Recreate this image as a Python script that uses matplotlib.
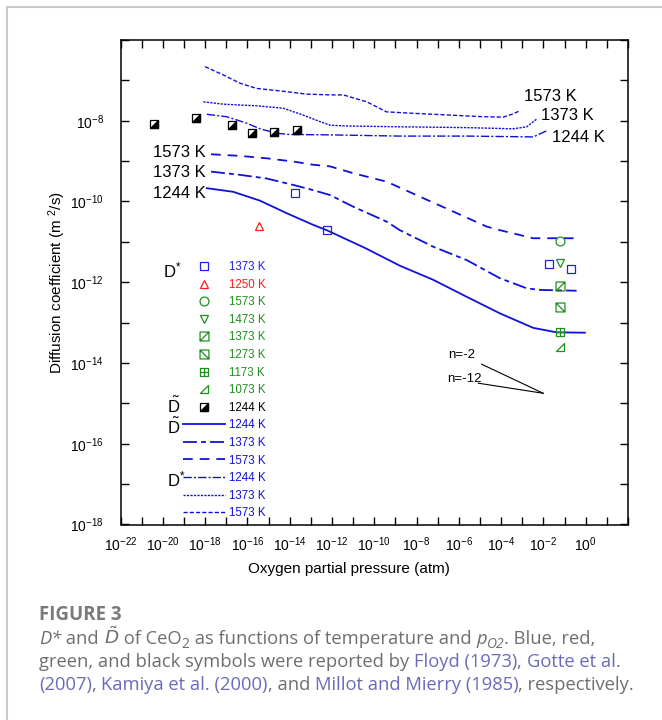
import numpy as np
import matplotlib
matplotlib.use("Agg")
import matplotlib.pyplot as plt
from matplotlib.lines import Line2D
from matplotlib.path import Path
from matplotlib.legend_handler import HandlerTuple

plt.rcParams['font.family'] = ['Liberation Sans', 'DejaVu Sans']
plt.rcParams['mathtext.fontset'] = 'custom'
plt.rcParams['mathtext.rm'] = 'Liberation Sans'
plt.rcParams['mathtext.it'] = 'Liberation Sans:italic'
plt.rcParams['mathtext.bf'] = 'Liberation Sans:bold'
plt.rcParams['mathtext.sf'] = 'Liberation Sans'
plt.rcParams['lines.scale_dashes'] = False

# ---------------- data: log10(pO2 / atm), log10(D / m^2 s^-1) ----------------
# chemical diffusion coefficient D~ (model curves)
dchem_1244_lx = [-17.92, -16.67, -15.40, -14.14, -12.88, -12.25, -10.44, -8.79, -7.21, -5.63, -4.06, -2.48, -1.38, -0.04]
dchem_1244_ly = [-9.67, -9.76, -9.98, -10.29, -10.58, -10.71, -11.15, -11.59, -11.94, -12.36, -12.77, -13.13, -13.24, -13.25]
dchem_1373_lx = [-17.72, -16.35, -15.09, -13.83, -12.88, -12.09, -10.99, -9.41, -8.79, -7.21, -5.63, -4.06, -2.79, -2.16, -0.43]
dchem_1373_ly = [-9.26, -9.34, -9.43, -9.59, -9.72, -9.84, -10.13, -10.50, -10.71, -11.12, -11.45, -11.90, -12.15, -12.19, -12.21]
dchem_1573_lx = [-17.72, -16.35, -15.09, -13.83, -12.88, -12.09, -10.99, -9.41, -7.84, -6.26, -4.69, -4.06, -2.48, -0.43]
dchem_1573_ly = [-8.83, -8.87, -8.93, -9.01, -9.09, -9.13, -9.30, -9.51, -9.88, -10.25, -10.62, -10.71, -10.91, -10.91]

# tracer diffusion coefficient D* (model curves)
dstar_1244_lx = [-17.92, -16.98, -16.03, -15.40, -14.61, -13.99, -12.09, -8.78, -5.63, -2.48, -1.85]
dstar_1244_ly = [-7.84, -7.90, -8.06, -8.20, -8.31, -8.34, -8.35, -8.38, -8.38, -8.40, -8.25]
dstar_1373_lx = [-18.08, -17.14, -15.56, -14.30, -13.36, -12.72, -12.09, -11.30, -8.78, -5.63, -3.43, -2.79, -2.32]
dstar_1373_ly = [-7.53, -7.59, -7.63, -7.69, -7.86, -7.99, -8.11, -8.13, -8.15, -8.17, -8.20, -8.15, -7.96]
dstar_1573_lx = [-18.00, -17.12, -16.35, -15.56, -14.46, -13.20, -12.10, -11.47, -10.36, -9.42, -8.00, -6.42, -4.85, -3.90, -3.43, -3.11]
dstar_1573_ly = [-6.66, -6.87, -7.07, -7.20, -7.26, -7.34, -7.36, -7.36, -7.53, -7.78, -7.82, -7.86, -7.90, -7.91, -7.83, -7.75]

# measured points
floyd_1373_lx = [-13.74, -12.25, -1.74, -0.71]
floyd_1373_ly = [-9.78, -10.71, -11.55, -11.68]
gotte_1250_lx = [-15.44]
gotte_1250_ly = [-10.61]
kamiya_lx = -1.22
kamiya_temps = ['1573 K', '1473 K', '1373 K', '1273 K', '1173 K', '1073 K']
kamiya_ly = [-10.98, -11.53, -12.09, -12.62, -13.24, -13.60]
millot_1244_lx = [-20.40, -18.43, -16.74, -15.80, -14.73, -13.64]
millot_1244_ly = [-8.09, -7.94, -8.11, -8.31, -8.29, -8.23]

# slope guides (n = -2, n = -12)
guide_n2_lx = [-4.92, -2.01]
guide_n2_ly = [-14.03, -14.75]
guide_n12_lx = [-5.08, -2.01]
guide_n12_ly = [-14.50, -14.75]

curve_temps = ['1244 K', '1373 K', '1573 K']

def P(v):
    return 10.0 ** np.asarray(v, dtype=float)

# ---------------- styles ----------------
BLUE = '#1010dc'
MBLUE = '#2020e0'
RED = '#ff1a1a'
GREEN = '#1f8f1f'
mk = 6.4
mew = 0.9

M = Path.MOVETO; L = Path.LINETO; C = Path.CLOSEPOLY
sq_slash = Path([(-1, -1), (1, -1), (1, 1), (-1, 1), (-1, -1), (-1, -1), (1, 1)], [M, L, L, L, C, M, L])
sq_back = Path([(-1, -1), (1, -1), (1, 1), (-1, 1), (-1, -1), (-1, 1), (1, -1)], [M, L, L, L, C, M, L])
sq_plus = Path([(-1, -1), (1, -1), (1, 1), (-1, 1), (-1, -1), (0, -1), (0, 1), (-1, 0), (1, 0)],
               [M, L, L, L, C, M, L, M, L])
tri_r = Path([(-1, -1), (1, -1), (1, 1), (-1, -1)], [M, L, L, C])
green_markers = ['o', 'v', sq_slash, sq_back, sq_plus, tri_r]

fig = plt.figure(figsize=(6.62, 7.2), dpi=100)
ax = fig.add_axes([120.5 / 662, 1 - 524.5 / 720, 507.5 / 662, 484.5 / 720])
ax.set_xscale('log')
ax.set_yscale('log')
ax.set_xlim(1e-22, 1e2)
ax.set_ylim(1e-18, 1e-6)

# D~ curves
ls_chem = ['-', (0, (10, 3, 3.5, 3)), (0, (7, 5))]
for lx, ly, ls in zip([dchem_1244_lx, dchem_1373_lx, dchem_1573_lx],
                      [dchem_1244_ly, dchem_1373_ly, dchem_1573_ly], ls_chem):
    ax.plot(P(lx), P(ly), color=BLUE, lw=1.3, ls=ls)
# D* curves
ls_star = [(0, (6, 1.5, 1.5, 1.5)), (0, (1.6, 0.9)), (0, (3, 1.5))]
for lx, ly, ls in zip([dstar_1244_lx, dstar_1373_lx, dstar_1573_lx],
                      [dstar_1244_ly, dstar_1373_ly, dstar_1573_ly], ls_star):
    ax.plot(P(lx), P(ly), color=BLUE, lw=1.0, ls=ls)

# markers
ax.plot(P(floyd_1373_lx), P(floyd_1373_ly), ls='none', marker='s', ms=mk, mfc='none', mec=MBLUE, mew=mew)
ax.plot(P(gotte_1250_lx), P(gotte_1250_ly), ls='none', marker='^', ms=mk, mfc='none', mec=RED, mew=mew)
for ly, m in zip(kamiya_ly, green_markers):
    ax.plot(P([kamiya_lx]), P([ly]), ls='none', marker=m, ms=mk, mfc='none', mec=GREEN, mew=mew)
ax.plot(P(millot_1244_lx), P(millot_1244_ly), ls='none', marker='s', ms=mk, mfc='white', mec='black', mew=mew)
ax.plot(P(millot_1244_lx), P(millot_1244_ly), ls='none', marker=tri_r, ms=mk, mfc='black', mec='black', mew=mew)

# slope guides
ax.plot(P(guide_n2_lx), P(guide_n2_ly), color='black', lw=0.8)
ax.plot(P(guide_n12_lx), P(guide_n12_ly), color='black', lw=0.8)
ax.text(P(-6.50), P(-13.79), 'n=-2', fontsize=9.5, va='center', ha='left')
ax.text(P(-6.55), P(-14.40), 'n=-12', fontsize=9.5, va='center', ha='left')

# curve labels
for t, ly in zip(['1573 K', '1373 K', '1244 K'], [-8.78, -9.29, -9.80]):
    ax.text(P(-17.96), P(ly), t, fontsize=12, ha='right', va='center')
for t, lx, ly in zip(['1573 K', '1373 K', '1244 K'], [-2.92, -2.12, -1.61], [-7.40, -7.88, -8.41]):
    ax.text(P(lx), P(ly), t, fontsize=12, ha='left', va='center')

# legend
handles = [Line2D([], [], ls='none', marker='s', ms=mk, mfc='none', mec=MBLUE, mew=mew),
           Line2D([], [], ls='none', marker='^', ms=mk, mfc='none', mec=RED, mew=mew)]
labels = ['1373 K', '1250 K']
colors = [MBLUE, RED]
for m, t in zip(green_markers, kamiya_temps):
    handles.append(Line2D([], [], ls='none', marker=m, ms=mk, mfc='none', mec=GREEN, mew=mew))
    labels.append(t)
    colors.append(GREEN)
handles.append((Line2D([], [], ls='none', marker='s', ms=mk, mfc='white', mec='black', mew=mew),
                Line2D([], [], ls='none', marker=tri_r, ms=mk, mfc='black', mec='black', mew=mew)))
labels.append('1244 K')
colors.append('black')
for ls in ls_chem:
    handles.append(Line2D([], [], color=BLUE, lw=1.3, ls=ls))
for ls in ls_star:
    handles.append(Line2D([], [], color=BLUE, lw=1.0, ls=ls))
labels += curve_temps + curve_temps
colors += [BLUE] * 6
leg = ax.legend(handles, labels, loc='upper left', bbox_to_anchor=((183.3 - 120.5) / 507.5, (524.5 - 261.0) / 484.5),
                frameon=False, fontsize=8.3, handlelength=3.6, handletextpad=0.37, labelspacing=0.485,
                borderpad=0, borderaxespad=0, labelcolor=colors, handler_map={tuple: HandlerTuple(ndivide=1)})

ax.text(P(-19.99), P(-11.88), r'D$^{*}$', fontsize=12, ha='left', va='baseline')
ax.text(P(-19.79), P(-15.25), r'$\mathrm{\tilde{D}}$', fontsize=12, ha='left', va='baseline')
ax.text(P(-19.79), P(-15.76), r'$\mathrm{\tilde{D}}$', fontsize=12, ha='left', va='baseline')
ax.text(P(-19.79), P(-17.05), r'D$^{*}$', fontsize=12, ha='left', va='baseline')

# axes formatting
xe = np.arange(-22, 3)
ax.set_xticks(P(xe))
ax.set_xticklabels([r'$10^{%d}$' % e if (e % 2 == 0 and e <= 0) else '' for e in xe])
ye = np.arange(-18, -5)
ax.set_yticks(P(ye))
ax.set_yticklabels([r'$10^{%d}$' % e if (e % 2 == 0 and e <= -8) else '' for e in ye])
ax.minorticks_off()
ax.tick_params(which='both', direction='in', top=True, right=True, length=6, width=1.0,
               labelsize=10, colors='black')
ax.tick_params(axis='x', pad=8)
ax.tick_params(axis='y', pad=12)
for s in ax.spines.values():
    s.set_linewidth(1.1)

ax.set_xlabel('Oxygen partial pressure (atm)', fontsize=11, va='center')
ax.xaxis.set_label_coords((348.7 - 120.5) / 507.5, (720 - 569.3 - 195.5) / 484.5)
ax.set_ylabel(r'Diffusion coefficient (m $^{2}$/s)', fontsize=11, va='center', ha='center')
ax.yaxis.set_label_coords((56.7 - 120.5) / 507.5, 0.5)

# page border
fig.add_artist(Line2D([6.5 / 662, 1], [1 - 6.5 / 720, 1 - 6.5 / 720], transform=fig.transFigure, color='#cacaca', lw=1.5))
fig.add_artist(Line2D([6.5 / 662, 6.5 / 662], [0, 1 - 6.5 / 720], transform=fig.transFigure, color='#cacaca', lw=1.5))

# caption
GRAY = '#6e6e6e'
LINK = '#6a6ab8'
CAPF = ['Open Sans', 'DejaVu Sans']
fig.text(39 / 662, 100 / 720, 'FIGURE 3', fontsize=13.5, fontweight='bold', color='#7a7a7a', family=CAPF, va='baseline')

def caption_line(x_px, base_from_top, pieces, size=13.2):
    yb = 720 - base_from_top
    prev = None
    for piece in pieces:
        txt, col, style, dy, fs = piece
        kw = dict(fontsize=fs if fs else size, color=col, va='baseline', ha='left', annotation_clip=False)
        if txt.startswith('$'):
            kw['math_fontfamily'] = 'dejavusans'
        else:
            kw['family'] = CAPF
            kw['fontstyle'] = style
        if prev is None:
            prev = ax.annotate(txt, xy=(x_px, yb), xycoords='figure pixels', xytext=(0, dy), textcoords='offset points', **kw)
        else:
            prev = ax.annotate(txt, xy=(1, yb), xycoords=(prev, 'figure pixels'), xytext=(0, dy), textcoords='offset points', **kw)

caption_line(39, 644, [
    ('D*', GRAY, 'italic', 0, None),
    (' and ', GRAY, 'normal', 0, None),
    (r'$\tilde{D}$', GRAY, 'italic', 0, None),
    (' of CeO', GRAY, 'normal', 0, None),
    ('2', GRAY, 'normal', -3, 10),
    (' as functions of temperature and ', GRAY, 'normal', 0, None),
    ('p', GRAY, 'italic', 0, None),
    ('O2', GRAY, 'italic', -3, 10),
    ('. Blue, red,', GRAY, 'normal', 0, None),
])
caption_line(39, 667, [
    ('green, and black symbols were reported by ', GRAY, 'normal', 0, None),
    ('Floyd (1973)', LINK, 'normal', 0, None),
    (', ', GRAY, 'normal', 0, None),
    ('Gotte et al.', LINK, 'normal', 0, None),
])
caption_line(39, 690, [
    ('(2007)', LINK, 'normal', 0, None),
    (', ', GRAY, 'normal', 0, None),
    ('Kamiya et al. (2000)', LINK, 'normal', 0, None),
    (', and ', GRAY, 'normal', 0, None),
    ('Millot and Mierry (1985)', LINK, 'normal', 0, None),
    (', respectively.', GRAY, 'normal', 0, None),
])

fig.savefig('out.png', dpi=100)
